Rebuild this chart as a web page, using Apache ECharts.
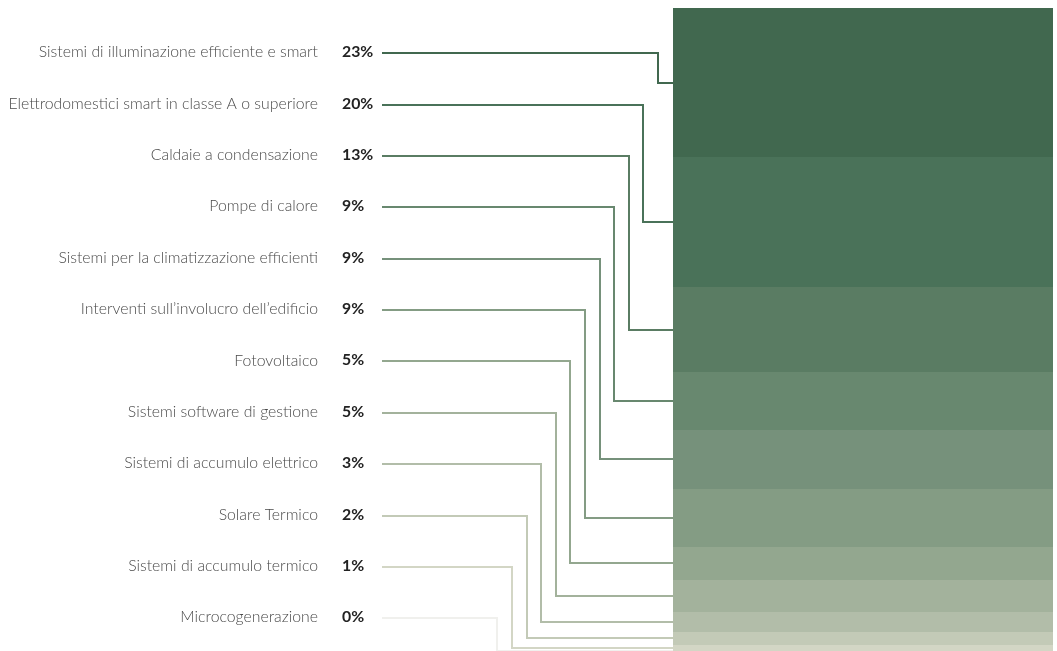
<!DOCTYPE html>
<html>
<head>
<meta charset="utf-8">
<style>
  html, body { margin: 0; padding: 0; background: #ffffff; }
  #chart { width: 1057px; height: 651px; }
</style>
<script src="https://cdn.jsdelivr.net/npm/echarts@6/dist/echarts.min.js"></script>
</head>
<body>
<div id="chart"></div>
<script>
// Quota degli interventi di efficienza energetica per tecnologia (%)
const categories = [
  'Sistemi di illuminazione efficiente e smart',
  'Elettrodomestici smart in classe A o superiore',
  'Caldaie a condensazione',
  'Pompe di calore',
  'Sistemi per la climatizzazione efficienti',
  'Interventi sull\u2019involucro dell\u2019edificio',
  'Fotovoltaico',
  'Sistemi software di gestione',
  'Sistemi di accumulo elettrico',
  'Solare Termico',
  'Sistemi di accumulo termico',
  'Microcogenerazione'
];
const shares = [23, 20, 13, 9, 9, 9, 5, 5, 3, 2, 1, 0];
const palette = [
  '#41684f', '#4a7259', '#5a7c63', '#68886f', '#76917b', '#849c84',
  '#93a78f', '#a3b29c', '#b2bda9', '#c3cab7', '#d3d6c5', '#f0f0ed'
];

const total = shares.reduce((a, b) => a + b, 0);

// start / end of each stacked block, in data units
const starts = [];
let acc = 0;
shares.forEach(v => { starts.push(acc); acc += v; });

const chart = echarts.init(document.getElementById('chart'), null, { renderer: 'canvas' });

const FONT = 'Lato, "Noto Sans", sans-serif';

// one block per item, snapped to whole pixels so neighbours meet without seams
const blockSeries = {
  type: 'custom',
  name: 'quote',
  coordinateSystem: 'cartesian2d',
  xAxisIndex: 0,
  yAxisIndex: 0,
  silent: true,
  z: 2,
  data: shares.map((v, i) => [0, starts[i], starts[i] + v, i]),
  renderItem: function (params, api) {
    const i = api.value(3);
    const top = api.coord([0, api.value(1)]);
    const bottom = api.coord([0, api.value(2)]);
    const w = api.size([1, 0])[0];
    const y0 = Math.round(top[1]);
    const y1 = Math.round(bottom[1]);
    return {
      type: 'rect',
      shape: { x: Math.round(top[0] - w / 2), y: y0, width: Math.round(w), height: y1 - y0 },
      style: { fill: palette[i] }
    };
  }
};

chart.setOption({
  animation: false,
  backgroundColor: '#ffffff',
  grid: [
    { left: 673, right: 4, top: 8, bottom: 0 },
    { left: 342, width: 331, top: 26.5, height: 616.5 }
  ],
  xAxis: [
    { type: 'category', gridIndex: 0, data: ['Totale'], show: false },
    { type: 'value', gridIndex: 1, min: 0, max: 1, show: false }
  ],
  yAxis: [
    { type: 'value', gridIndex: 0, min: 0, max: total, inverse: true, show: false },
    {
      type: 'category', gridIndex: 1, inverse: true, data: categories,
      axisLine: { show: false }, axisTick: { show: false }, splitLine: { show: false },
      axisLabel: {
        margin: 24, color: '#4a4a4a', fontFamily: FONT, fontWeight: 300, fontSize: 15.8
      }
    }
  ],
  series: [blockSeries]
});

// pixel rows of the label axis, read back from the laid-out chart
const rowPx = categories.map(c => chart.convertToPixel({ yAxisIndex: 1 }, c));
const pctX = chart.convertToPixel({ xAxisIndex: 1 }, 0);
const lineStartX = pctX + 40;

chart.setOption({
  series: [blockSeries, {
    type: 'custom',
    name: 'connettori',
    coordinateSystem: 'cartesian2d',
    xAxisIndex: 0,
    yAxisIndex: 0,
    silent: true,
    z: 1,
    data: shares.map((v, i) => [0, starts[i] + v / 2, i, v]),
    renderItem: function (params, api) {
      const i = api.value(2);
      const p = api.coord([0, api.value(1)]);
      const half = api.size([1, 0])[0] / 2;
      const barLeft = Math.round(p[0] - half);
      const y = Math.round(rowPx[i]) + 1;
      const segY = Math.round(p[1]);
      const elbowX = Math.round(barLeft - 15 - i * 14.6);
      return {
        type: 'group',
        children: [
          {
            type: 'polyline',
            shape: { points: [[lineStartX, y], [elbowX, y], [elbowX, segY], [barLeft, segY]] },
            style: { stroke: palette[i], lineWidth: 2, fill: null, lineJoin: 'miter' }
          },
          {
            type: 'text',
            style: {
              x: pctX, y: y - 1,
              text: api.value(3) + '%',
              fill: '#222222',
              font: 'bold 15.8px ' + FONT,
              align: 'left',
              verticalAlign: 'middle'
            }
          }
        ]
      };
    }
  }]
});
</script>
</body>
</html>
